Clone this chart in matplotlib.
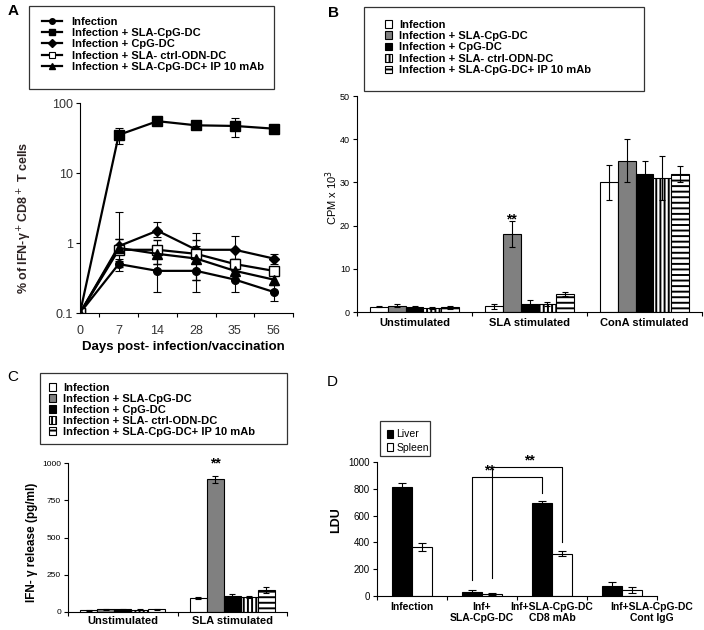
import matplotlib
matplotlib.use('Agg')
import matplotlib.pyplot as plt
from matplotlib.patches import Rectangle, Patch
from matplotlib.lines import Line2D

plt.rcParams['font.family'] = ['Liberation Sans', 'DejaVu Sans']
plt.rcParams['hatch.linewidth'] = 1.4

W, H = 704, 630

# ---- panel A data ----
days = ['0', '7', '14', '28', '35', '56']
a_names = ['Infection', 'Infection + SLA-CpG-DC', 'Infection + CpG-DC',
           'Infection + SLA- ctrl-ODN-DC', 'Infection + SLA-CpG-DC+ IP 10 mAb']
inf = [0.1, 0.5, 0.4, 0.4, 0.3, 0.2]
inf_err = [0, 0.1, 0.2, 0.2, 0.1, 0.05]
sla_cpg = [0.1, 35, 55, 48, 47, 43]
sla_cpg_err = [0, 9, 4, 3, 14, 3]
cpg = [0.1, 0.9, 1.5, 0.8, 0.8, 0.6]
cpg_lo = [0, 0.1, 0.3, 0.2, 0.2, 0.1]
cpg_hi = [0, 1.9, 0.5, 0.6, 0.45, 0.1]
ctrl = [0.1, 0.8, 0.8, 0.7, 0.5, 0.4]
ctrl_err = [0, 0.35, 0.3, 0.4, 0.1, 0.05]
ip10 = [0.1, 0.85, 0.7, 0.6, 0.4, 0.3]
ip10_err = [0, 0.3, 0.2, 0.3, 0.1, 0.05]

# ---- panel B data (CPM x 10^3) ----
b_groups = ['Unstimulated', 'SLA stimulated', 'ConA stimulated']
b_vals = [[1.2, 1.3, 30], [1.5, 18, 35], [1.2, 1.9, 32], [1.0, 1.9, 31], [1.1, 4.1, 32]]
b_errs = [[0.1, 0.6, 4], [0.3, 3, 5], [0.2, 0.8, 3], [0.2, 0.5, 5], [0.3, 0.5, 1.8]]

# ---- panel C data (pg/ml) ----
c_groups = ['Unstimulated', 'SLA stimulated']
c_vals = [[12, 93], [17, 890], [17, 106], [14, 100], [17, 148]]
c_errs = [[2, 6], [2, 25], [2, 15], [3, 5], [2, 22]]

# ---- panel D data (LDU) ----
d_groups = ['Infection', 'Inf+\nSLA-CpG-DC', 'Inf+SLA-CpG-DC\nCD8 mAb', 'Inf+SLA-CpG-DC\nCont IgG']
liver = [817, 30, 693, 72]
liver_err = [28, 15, 15, 32]
spleen = [365, 15, 315, 45]
spleen_err = [32, 5, 20, 20]

fills = ['white', '#808080', 'black', 'white', 'white']
hatches = [None, None, None, '||||', '---']


def box(x0, y0, x1, y1):
    return [x0 / W, 1 - y1 / H, (x1 - x0) / W, (y1 - y0) / H]


def fx(x):
    return x / W


def fy(y):
    return 1 - y / H


def frame(x0, y0, x1, y1):
    fig.patches.append(Rectangle((fx(x0), fy(y1)), fx(x1) - fx(x0), fy(y0) - fy(y1),
                                 transform=fig.transFigure, fill=False,
                                 edgecolor='#333333', lw=0.9))


def excel_axes(ax):
    ax.spines['top'].set_visible(False)
    ax.spines['right'].set_visible(False)
    ax.tick_params(axis='y', labelsize=6.5, length=3, width=0.8, pad=2)
    ax.tick_params(axis='x', which='major', length=3, width=0.8, labelbottom=False)
    ax.tick_params(axis='x', which='minor', length=0, labelsize=8, pad=4)


fig = plt.figure(figsize=(7.04, 6.30), dpi=100)

# ================= A =================
axA = fig.add_axes(box(80, 103, 293, 313))
x = list(range(len(days)))
kw = dict(color='black', lw=1.6, ecolor='black', elinewidth=0.8, capsize=3, capthick=0.8)
axA.errorbar(x, inf, yerr=inf_err, marker='o', ms=5.5, mfc='black', **kw)
axA.errorbar(x, sla_cpg, yerr=sla_cpg_err, marker='s', ms=7, mfc='black', **kw)
axA.errorbar(x, cpg, yerr=[cpg_lo, cpg_hi], marker='D', ms=5.5, mfc='black', **kw)
axA.errorbar(x, ctrl, yerr=ctrl_err, marker='s', ms=6.5, mfc='white', mew=1.0, **kw)
axA.errorbar(x, ip10, yerr=ip10_err, marker='^', ms=6.5, mfc='black', **kw)
axA.set_yscale('log')
axA.set_ylim(0.1, 100)
axA.set_xlim(0, 5.5)
axA.set_yticks([0.1, 1, 10, 100])
axA.set_yticklabels(['0.1', '1', '10', '100'])
axA.yaxis.set_minor_locator(matplotlib.ticker.NullLocator())
axA.set_xticks([i + 0.5 for i in x])
axA.set_xticks(x, minor=True)
axA.set_xticklabels(days, minor=True)
excel_axes(axA)
axA.tick_params(axis='y', labelsize=9)
axA.tick_params(axis='x', which='minor', labelsize=9, pad=9)
for lab in axA.get_xticklabels(minor=True) + axA.get_yticklabels():
    lab.set_color('#333333')

fig.text(fx(25), fy(218), 'IFN-γ$^+$CD8$^+$ T cells'.join(['% of ', '']), rotation=90,
         ha='center', va='center', fontsize=9, fontweight='bold', color='#2e2424')
fig.text(fx(183), fy(347), 'Days post- infection/vaccination', ha='center', va='center',
         fontsize=9.5, fontweight='bold')

a_handles = [
    Line2D([], [], color='black', lw=1.6, marker='o', ms=4, mfc='black'),
    Line2D([], [], color='black', lw=1.6, marker='s', ms=5, mfc='black'),
    Line2D([], [], color='black', lw=1.6, marker='D', ms=4, mfc='black'),
    Line2D([], [], color='black', lw=1.6, marker='s', ms=4.5, mfc='white', mew=0.8),
    Line2D([], [], color='black', lw=1.6, marker='^', ms=5, mfc='black'),
]
frame(29, 6, 274, 89)
fig.legend(a_handles, a_names, loc='upper left', bbox_to_anchor=(fx(36), fy(11)),
           frameon=False, borderpad=0, handlelength=1.8, handletextpad=0.9,
           labelspacing=0.12, prop={'weight': 'bold', 'size': 8})
fig.text(fx(8), fy(11), 'A', fontsize=11, fontweight='bold', ha='left', va='center')


def grouped(ax, vals, errs, ngroups, w):
    for i in range(len(vals)):
        xs = [g + 0.5 + (i - 2) * w for g in range(ngroups)]
        ax.bar(xs, vals[i], width=w, color=fills[i], edgecolor='black', lw=0.8,
               hatch=hatches[i], yerr=errs[i], capsize=2.5,
               error_kw=dict(elinewidth=0.8, capthick=0.8, ecolor='black'))


# ================= B =================
axB = fig.add_axes(box(357, 96, 702, 312))
grouped(axB, b_vals, b_errs, 3, 0.155)
axB.set_xlim(0, 3)
axB.set_ylim(0, 50)
axB.set_yticks([0, 10, 20, 30, 40, 50])
axB.set_xticks([0, 1, 2, 3])
axB.set_xticks([0.5, 1.5, 2.5], minor=True)
axB.set_xticklabels(b_groups, minor=True, fontweight='bold')
excel_axes(axB)
axB.text(1.5 - 0.155, 21.5, '**', ha='center', va='center', fontsize=10, fontweight='bold')
fig.text(fx(332), fy(197), 'CPM x 10$^3$', rotation=90, ha='center', va='center', fontsize=8)
fig.text(fx(328), fy(13), 'B', fontsize=11, fontweight='bold', ha='left', va='center')

b_handles = [Patch(facecolor=fills[i], edgecolor='black', hatch=hatches[i], lw=0.8) for i in range(5)]
frame(364, 7, 644, 91)
fig.legend(b_handles, a_names[:3] + ['Infection + SLA- ctrl-ODN-DC', 'Infection + SLA-CpG-DC+ IP 10 mAb'],
           loc='upper left', bbox_to_anchor=(fx(379), fy(14)), frameon=False, borderpad=0,
           handlelength=0.7, handleheight=0.7, handletextpad=0.6, labelspacing=0.13,
           prop={'weight': 'bold', 'size': 8})

# ================= C =================
axC = fig.add_axes(box(68, 463, 287, 612))
grouped(axC, c_vals, c_errs, 2, 0.155)
axC.set_xlim(0, 2)
axC.set_ylim(0, 1000)
axC.set_yticks([0, 250, 500, 750, 1000])
axC.set_xticks([0, 1, 2])
axC.set_xticks([0.5, 1.5], minor=True)
axC.set_xticklabels(c_groups, minor=True, fontweight='bold')
excel_axes(axC)
axC.tick_params(axis='y', labelsize=6)
axC.tick_params(axis='x', which='minor', pad=3)
axC.text(1.5 - 0.155, 1000, '**', ha='center', va='center', fontsize=10, fontweight='bold',
         clip_on=False)
fig.text(fx(32), fy(542), 'IFN- γ release (pg/ml)', rotation=90, ha='center', va='center',
         fontsize=8.5, fontweight='bold')
fig.text(fx(13), fy(377), 'C', fontsize=11, ha='center', va='center')

frame(40, 373, 287, 444)
fig.legend(b_handles, a_names, loc='upper left', bbox_to_anchor=(fx(43), fy(377)),
           frameon=False, borderpad=0, handlelength=0.7, handleheight=0.7,
           handletextpad=0.6, labelspacing=0.1, prop={'weight': 'bold', 'size': 8})

# ================= D =================
axD = fig.add_axes(box(377, 462, 657, 596))
dw = 0.28
xl = [g + 0.5 - dw / 2 for g in range(len(d_groups))]
xs = [g + 0.5 + dw / 2 for g in range(len(d_groups))]
ekw = dict(elinewidth=0.8, capthick=0.8, ecolor='black')
axD.bar(xl, liver, width=dw, color='black', edgecolor='black', lw=0.8, yerr=liver_err,
        capsize=3, error_kw=ekw, label='Liver')
axD.bar(xs, spleen, width=dw, color='white', edgecolor='black', lw=0.8, yerr=spleen_err,
        capsize=3, error_kw=ekw, label='Spleen')
axD.set_xlim(0, 4)
axD.set_ylim(0, 1000)
axD.set_yticks([0, 200, 400, 600, 800, 1000])
axD.set_xticks([0, 1, 2, 3, 4])
# last label sits to the right, past the end of the axis, as in the original
axD.set_xticks([0.5, 1.5, 2.5, 3.93], minor=True)
axD.set_xticklabels(d_groups, minor=True, fontweight='bold')
excel_axes(axD)
axD.tick_params(axis='y', labelsize=7)
axD.tick_params(axis='x', which='minor', pad=4, labelsize=7.5)
# significance brackets
axD.plot([xl[1], xl[1], xl[2], xl[2]], [120, 887, 887, 770], color='black', lw=0.8, clip_on=False)
axD.plot([xs[1], xs[1], xs[2], xs[2]], [134, 962, 962, 403], color='black', lw=0.8, clip_on=False)
axD.text(1.6, 935, '**', ha='center', va='center', fontsize=10, fontweight='bold', clip_on=False)
axD.text(2.18, 1010, '**', ha='center', va='center', fontsize=10, fontweight='bold', clip_on=False)
fig.text(fx(336), fy(520), 'LDU', rotation=90, ha='center', va='center', fontsize=9,
         fontweight='bold')
fig.text(fx(332), fy(382), 'D', fontsize=11, ha='center', va='center')

frame(380, 421, 430, 456)
fig.legend(loc='upper left', bbox_to_anchor=(fx(382), fy(424)), frameon=False, borderpad=0,
           handlelength=0.6, handleheight=0.8, handletextpad=0.3, labelspacing=0.35,
           fontsize=7.5, handles=axD.get_legend_handles_labels()[0],
           labels=axD.get_legend_handles_labels()[1])

fig.savefig('out.png', dpi=100)
